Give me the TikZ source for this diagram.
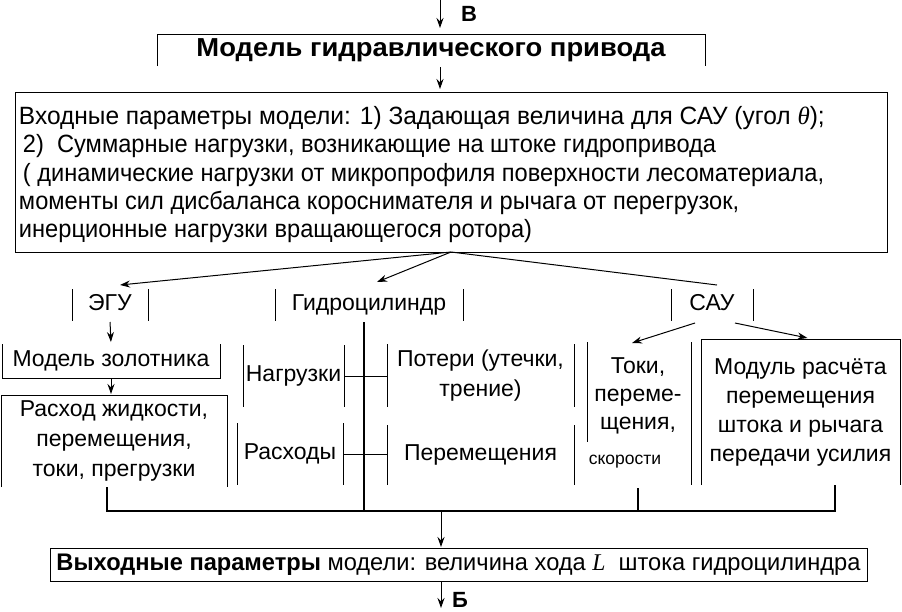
\documentclass[tikz,border=0pt]{standalone}
\usepackage{fontspec}
\usepackage{graphicx}
\setmainfont{Liberation Sans}
\newfontfamily\timesf{Liberation Serif}
\newfontfamily\narrowf[FakeStretch=0.945]{Liberation Sans}
\newfontfamily\narrowfa[FakeStretch=0.98]{Liberation Sans}
\usetikzlibrary{arrows.meta,calc}
\begin{document}
\begin{tikzpicture}[x=1pt,y=-1pt,
  every node/.style={inner sep=0pt, outer sep=0pt},
  lbl/.style={font=\fontsize{23}{27}\selectfont, align=center},
  rowlbl/.style={lbl, text height=16pt, text depth=5pt, minimum height=32pt},
  itxt/.style={font=\narrowf\fontsize{25}{29}\selectfont, anchor=west},
  small/.style={font=\fontsize{17.5}{20}\selectfont},
  ln/.style={line width=1pt},
  thk/.style={line width=2pt},
  arr/.style={line width=1pt, -{Stealth[length=10pt,width=7pt]}},
]
\useasboundingbox (0,0) rectangle (902,611);

% top
\coordinate (topin) at (440,0);
\node[font=\fontsize{22}{26}\selectfont\bfseries] (vlab) at (469,14) {В};
\node[minimum width=548pt, minimum height=32pt, font=\fontsize{26}{30}\selectfont] (model) at (431,50)
  {\resizebox{469pt}{\height}{\bfseries Модель гидравлического привода}};
\draw[ln] (model.south west) -- (model.north west) -- (model.north east) -- (model.south east);
\draw[arr, shorten >=6pt] (topin) -- (topin |- model.north);

% input box
\node[draw, ln, minimum width=872pt, minimum height=160pt] (inp) at (451,172) {};
\draw[arr, shorten <=1pt, shorten >=3pt] (topin |- model.south) -- (topin |- inp.north);
\node[itxt, font=\narrowfa\fontsize{25}{29}\selectfont] (i1) at (19,118) {Входные параметры модели: 1) Задающая величина для САУ (угол {\timesf\itshape θ});};
\node[itxt] (i2) at (23,146) {2)\ \ Суммарные нагрузки, возникающие на штоке гидропривода};
\node[itxt] (i3) at (23,175) {( динамические нагрузки от микропрофиля поверхности лесоматериала,};
\node[itxt] (i4) at (19,203) {моменты сил дисбаланса короснимателя и рычага от перегрузок,};
\node[itxt] (i5) at (19,231) {инерционные нагрузки вращающегося ротора)};

% label row
\node[rowlbl, minimum width=76pt] (egu) at (110,305) {ЭГУ};
\draw[ln] (egu.north west) -- (egu.south west) (egu.north east) -- (egu.south east);
\node[rowlbl, minimum width=188pt] (gidro) at (369,305) {Гидроцилиндр};
\draw[ln] (gidro.north west) -- (gidro.south west) (gidro.north east) -- (gidro.south east);
\node[rowlbl, minimum width=82pt] (sau) at (712,305) {САУ};
\draw[ln] (sau.north west) -- (sau.south west) (sau.north east) -- (sau.south east);

\draw[arr] (inp.south) -- ($(egu.north)+(10,-4)$);
\draw[arr] (inp.south) -- ($(gidro.north)+(8,-7)$);
\draw[ln] (inp.south) -- ($(sau.north)+(5,-4)$);

% ЭГУ branch
\node[lbl, minimum width=218pt, minimum height=34pt] (zol) at (111,361) {Модель золотника};
\draw[ln] (zol.north west) -- (zol.south west) -- (zol.south east) -- (zol.north east);
\node[lbl, font=\fontsize{23}{30}\selectfont, minimum width=226pt, minimum height=92pt] (rash) at (114,441)
  {Расход жидкости,\\перемещения,\\токи, прегрузки};
\draw[ln] (rash.south west) -- (rash.north west) -- (rash.north east) -- (rash.south east);
\draw[arr, shorten <=1pt, shorten >=2pt] (egu.south) -- (zol.north);
\draw[arr, shorten >=1pt] (zol.south) -- (zol.south |- rash.north);

% Гидроцилиндр branch
\node[lbl, minimum width=101pt, minimum height=62pt] (nagr) at (293.5,376) {Нагрузки};
\draw[ln] (nagr.north west) -- (nagr.south west) (nagr.north east) -- (nagr.south east);
\node[lbl, font=\fontsize{23}{30}\selectfont, minimum width=187pt, minimum height=63pt] (pot) at (480.5,375.5)
  {Потери (утечки,\\трение)};
\draw[ln] (pot.north west) -- (pot.south west) (pot.north east) -- (pot.south east);
\node[lbl, minimum width=106pt, minimum height=62pt] (rasd) at (290,454) {Расходы};
\draw[ln] (rasd.north west) -- (rasd.south west) (rasd.north east) -- (rasd.south east);
\node[lbl, minimum width=187pt, minimum height=60pt] (per) at (480.5,455) {Перемещения};
\draw[ln] (per.north west) -- (per.south west) (per.north east) -- (per.south east);
\draw[ln] (nagr.east) -- (pot.west |- nagr.east);
\draw[ln] (rasd.east) -- (per.west |- rasd.east);

% САУ branch
\node[minimum width=104pt, minimum height=143pt] (toki) at (639,413.5) {};
\draw[ln] (toki.north west) -- ++(0,100) (toki.north east) -- (toki.south east);
\node[lbl, font=\fontsize{23}{28}\selectfont] (tokit) at (638,396) {Токи,\\переме-\\щения,};
\node[small] (skor) at (625,462) {скорости};
\node[lbl, font=\fontsize{23}{29}\selectfont, minimum width=199pt, minimum height=146pt] (modul) at (800.5,412)
  {Модуль расчёта\\перемещения\\штока и рычага\\передачи усилия};
\draw[ln] (modul.south west) -- (modul.north west) -- (modul.north east) -- (modul.south east);
\draw[arr] ($(sau.south)+(-17,2)$) -- ($(toki.north)+(-7,1)$);
\draw[arr] ($(sau.south)+(23,2)$) -- ($(modul.north)+(7,-1)$);

% bus
\coordinate (busL) at (107,511);
\coordinate (busR) at (835,511);
\coordinate (gstem) at (364,322);
\coordinate (tokout) at (638,488);
\coordinate (outin) at (441,511);
\draw[thk] (rash.south -| busL) -- (busL) -- (busR) -- (modul.south -| busR);
\draw[thk] (gstem) -- (gstem |- busL);
\draw[thk] (tokout) -- (tokout |- busL);

% output
\node[draw, ln, minimum width=817pt, minimum height=33pt, font=\fontsize{24}{28}\selectfont] (out) at (458.5,564.5)
  {\resizebox{804pt}{\height}{\textbf{Выходные параметры} модели: величина хода {\timesf\itshape L}\ \ штока гидроцилиндра}};
\draw[arr, shorten >=1pt] (outin) -- (outin |- out.north);
\coordinate (bot) at (441,608);
\draw[arr, shorten <=1pt] (bot |- out.south) -- (bot);
\node[font=\fontsize{22}{26}\selectfont\bfseries] (blab) at (460,600) {Б};
\end{tikzpicture}
\end{document}
